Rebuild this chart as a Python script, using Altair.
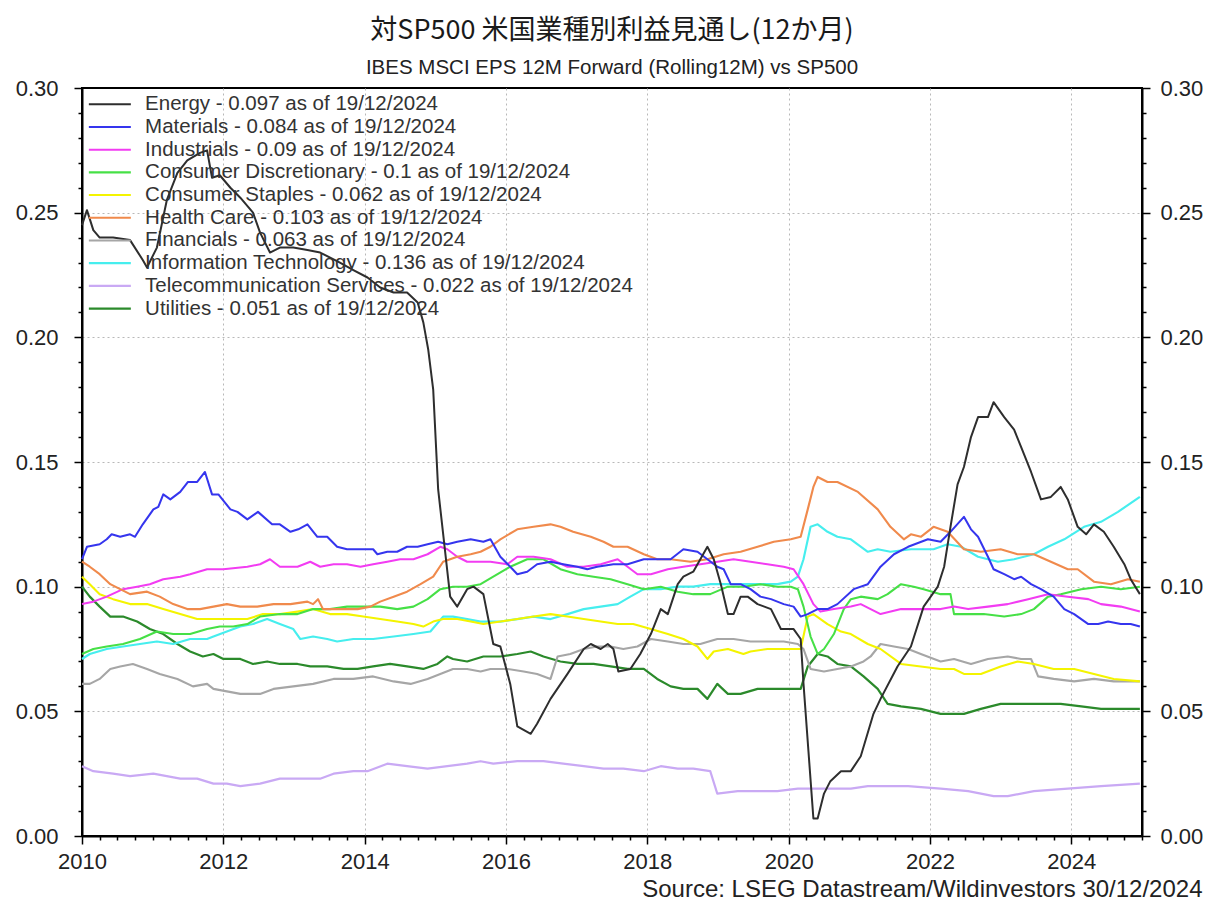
import altair as alt
import pandas as pd

# ---------------- data ----------------
energy_x = [2010.00, 2010.07, 2010.16, 2010.25, 2010.44, 2010.68, 2010.86, 2010.92, 2011.06, 2011.20,
            2011.35, 2011.49, 2011.67, 2011.77, 2011.84, 2011.95, 2012.10, 2012.24, 2012.42, 2012.52,
            2012.66, 2012.80, 2012.99, 2013.19, 2013.37, 2013.65, 2013.84, 2014.04, 2014.22, 2014.41,
            2014.60, 2014.75, 2014.83, 2014.90, 2014.97, 2015.04, 2015.21, 2015.31, 2015.45, 2015.54,
            2015.68, 2015.82, 2015.92, 2016.06, 2016.16, 2016.35, 2016.44, 2016.63, 2016.87, 2017.10,
            2017.20, 2017.34, 2017.44, 2017.52, 2017.59, 2017.76, 2017.90, 2018.05, 2018.19, 2018.29,
            2018.43, 2018.51, 2018.65, 2018.85, 2018.94, 2019.04, 2019.14, 2019.22, 2019.32, 2019.42,
            2019.56, 2019.75, 2019.89, 2020.07, 2020.17, 2020.21, 2020.28, 2020.35, 2020.41, 2020.50,
            2020.59, 2020.74, 2020.88, 2021.02, 2021.20, 2021.30, 2021.54, 2021.73, 2021.91, 2022.11,
            2022.20, 2022.29, 2022.39, 2022.48, 2022.58, 2022.68, 2022.82, 2022.90, 2023.05, 2023.19,
            2023.29, 2023.43, 2023.57, 2023.71, 2023.85, 2023.95, 2024.09, 2024.21, 2024.32, 2024.46,
            2024.60, 2024.75, 2024.84, 2024.97]
energy_y = [0.245, 0.251, 0.243, 0.240, 0.240, 0.239, 0.231, 0.228, 0.236, 0.255,
            0.266, 0.271, 0.274, 0.275, 0.264, 0.265, 0.260, 0.256, 0.250, 0.242,
            0.234, 0.236, 0.236, 0.235, 0.234, 0.230, 0.227, 0.224, 0.220, 0.218,
            0.218, 0.214, 0.206, 0.195, 0.179, 0.139, 0.096, 0.092, 0.099, 0.100,
            0.097, 0.077, 0.076, 0.061, 0.044, 0.041, 0.045, 0.055, 0.065, 0.075,
            0.077, 0.075, 0.077, 0.075, 0.066, 0.067, 0.073, 0.081, 0.091, 0.089,
            0.101, 0.104, 0.106, 0.116, 0.111, 0.101, 0.089, 0.089, 0.096, 0.096,
            0.093, 0.091, 0.083, 0.083, 0.079, 0.061, 0.034, 0.007, 0.007, 0.017,
            0.022, 0.026, 0.026, 0.032, 0.049, 0.055, 0.068, 0.076, 0.092, 0.100,
            0.108, 0.124, 0.141, 0.148, 0.160, 0.168, 0.168, 0.174, 0.168, 0.163,
            0.156, 0.146, 0.135, 0.136, 0.140, 0.135, 0.124, 0.121, 0.125, 0.122,
            0.116, 0.109, 0.103, 0.097]

materials_x = [2010.00, 2010.07, 2010.25, 2010.35, 2010.42, 2010.54, 2010.68, 2010.75, 2010.86, 2011.01,
               2011.08, 2011.15, 2011.25, 2011.39, 2011.50, 2011.63, 2011.74, 2011.84, 2011.93, 2012.10,
               2012.20, 2012.34, 2012.49, 2012.69, 2012.80, 2012.95, 2013.06, 2013.19, 2013.33, 2013.47,
               2013.61, 2013.75, 2013.98, 2014.12, 2014.18, 2014.32, 2014.46, 2014.60, 2014.75, 2014.89,
               2015.04, 2015.17, 2015.31, 2015.50, 2015.68, 2015.78, 2015.92, 2016.06, 2016.16, 2016.30,
               2016.44, 2016.63, 2016.81, 2017.01, 2017.15, 2017.29, 2017.52, 2017.72, 2017.95, 2018.14,
               2018.33, 2018.51, 2018.71, 2018.85, 2018.99, 2019.08, 2019.18, 2019.32, 2019.46, 2019.60,
               2019.75, 2019.93, 2020.07, 2020.17, 2020.27, 2020.41, 2020.55, 2020.69, 2020.92, 2021.12,
               2021.30, 2021.49, 2021.69, 2021.97, 2022.15, 2022.29, 2022.48, 2022.58, 2022.68, 2022.82,
               2022.90, 2023.05, 2023.19, 2023.29, 2023.43, 2023.57, 2023.75, 2023.90, 2024.04, 2024.24,
               2024.38, 2024.52, 2024.70, 2024.84, 2024.97]
materials_y = [0.111, 0.116, 0.117, 0.119, 0.121, 0.120, 0.121, 0.120, 0.125, 0.131,
               0.132, 0.137, 0.135, 0.138, 0.142, 0.142, 0.146, 0.137, 0.137, 0.131,
               0.130, 0.127, 0.130, 0.125, 0.125, 0.122, 0.123, 0.125, 0.120, 0.120,
               0.116, 0.115, 0.115, 0.115, 0.113, 0.114, 0.114, 0.116, 0.116, 0.117,
               0.118, 0.117, 0.118, 0.119, 0.118, 0.119, 0.112, 0.108, 0.105, 0.106,
               0.109, 0.110, 0.109, 0.108, 0.107, 0.108, 0.109, 0.109, 0.111, 0.111,
               0.111, 0.115, 0.114, 0.111, 0.108, 0.107, 0.101, 0.101, 0.099, 0.096,
               0.095, 0.093, 0.092, 0.088, 0.089, 0.091, 0.091, 0.093, 0.099, 0.101,
               0.108, 0.113, 0.116, 0.119, 0.118, 0.122, 0.128, 0.123, 0.120, 0.112,
               0.107, 0.105, 0.103, 0.104, 0.101, 0.099, 0.096, 0.091, 0.089, 0.085,
               0.085, 0.086, 0.085, 0.085, 0.084]

industrials_x = [2010.00, 2010.16, 2010.35, 2010.58, 2010.78, 2010.96, 2011.15, 2011.39, 2011.53, 2011.77,
                 2012.00, 2012.34, 2012.52, 2012.66, 2012.80, 2013.05, 2013.23, 2013.37, 2013.56, 2013.75,
                 2013.94, 2014.12, 2014.32, 2014.50, 2014.69, 2014.89, 2015.07, 2015.17, 2015.31, 2015.45,
                 2015.64, 2015.78, 2016.02, 2016.16, 2016.39, 2016.63, 2016.87, 2017.10, 2017.34, 2017.58,
                 2017.86, 2018.05, 2018.29, 2018.51, 2018.75, 2018.99, 2019.22, 2019.46, 2019.70, 2019.93,
                 2020.07, 2020.21, 2020.35, 2020.45, 2020.64, 2020.88, 2021.02, 2021.30, 2021.59, 2021.87,
                 2022.15, 2022.34, 2022.54, 2022.82, 2023.10, 2023.39, 2023.67, 2023.95, 2024.24, 2024.42,
                 2024.70, 2024.97]
industrials_y = [0.093, 0.094, 0.096, 0.099, 0.100, 0.101, 0.103, 0.104, 0.105, 0.107,
                 0.107, 0.108, 0.109, 0.111, 0.108, 0.108, 0.110, 0.108, 0.109, 0.109,
                 0.108, 0.109, 0.110, 0.111, 0.111, 0.113, 0.116, 0.115, 0.112, 0.110,
                 0.110, 0.110, 0.109, 0.112, 0.112, 0.111, 0.108, 0.108, 0.109, 0.111,
                 0.105, 0.105, 0.107, 0.108, 0.109, 0.110, 0.111, 0.110, 0.109, 0.108,
                 0.107, 0.101, 0.093, 0.090, 0.091, 0.092, 0.093, 0.089, 0.091, 0.091,
                 0.091, 0.092, 0.091, 0.092, 0.093, 0.095, 0.097, 0.096, 0.095, 0.093,
                 0.092, 0.090]

discretionary_x = [2010.00, 2010.16, 2010.35, 2010.58, 2010.82, 2011.06, 2011.29, 2011.53, 2011.77, 2011.95,
                   2012.14, 2012.34, 2012.52, 2012.80, 2013.05, 2013.27, 2013.51, 2013.75, 2013.98, 2014.22,
                   2014.46, 2014.69, 2014.89, 2015.07, 2015.25, 2015.45, 2015.64, 2015.82, 2016.06, 2016.30,
                   2016.53, 2016.77, 2017.01, 2017.24, 2017.48, 2017.72, 2017.95, 2018.19, 2018.43, 2018.65,
                   2018.89, 2019.14, 2019.36, 2019.60, 2019.84, 2020.03, 2020.13, 2020.21, 2020.31, 2020.41,
                   2020.50, 2020.64, 2020.78, 2020.88, 2021.02, 2021.26, 2021.40, 2021.59, 2021.77, 2021.91,
                   2022.15, 2022.29, 2022.34, 2022.54, 2022.76, 2023.05, 2023.29, 2023.47, 2023.67, 2023.85,
                   2024.14, 2024.42, 2024.70, 2024.97]
discretionary_y = [0.073, 0.075, 0.076, 0.077, 0.079, 0.082, 0.081, 0.081, 0.083, 0.084,
                   0.084, 0.085, 0.088, 0.089, 0.089, 0.091, 0.091, 0.092, 0.092, 0.092,
                   0.091, 0.092, 0.095, 0.099, 0.100, 0.100, 0.101, 0.104, 0.108, 0.111,
                   0.111, 0.107, 0.105, 0.104, 0.103, 0.101, 0.099, 0.100, 0.098, 0.097,
                   0.097, 0.100, 0.100, 0.101, 0.100, 0.100, 0.099, 0.092, 0.080, 0.073,
                   0.075, 0.081, 0.091, 0.095, 0.096, 0.095, 0.097, 0.101, 0.100, 0.099,
                   0.097, 0.097, 0.089, 0.089, 0.089, 0.088, 0.089, 0.091, 0.096, 0.097,
                   0.099, 0.100, 0.099, 0.100]

staples_x = [2010.00, 2010.11, 2010.25, 2010.44, 2010.68, 2010.92, 2011.15, 2011.39, 2011.63, 2011.86,
             2012.10, 2012.34, 2012.56, 2012.80, 2013.05, 2013.27, 2013.51, 2013.75, 2013.98, 2014.22,
             2014.46, 2014.69, 2014.83, 2014.97, 2015.11, 2015.31, 2015.50, 2015.68, 2015.92, 2016.16,
             2016.39, 2016.63, 2016.87, 2017.10, 2017.34, 2017.58, 2017.80, 2018.05, 2018.29, 2018.51,
             2018.71, 2018.85, 2018.94, 2019.14, 2019.36, 2019.46, 2019.70, 2019.93, 2020.17, 2020.27,
             2020.35, 2020.55, 2020.74, 2020.88, 2021.12, 2021.30, 2021.59, 2021.87, 2022.15, 2022.34,
             2022.48, 2022.72, 2023.00, 2023.24, 2023.47, 2023.75, 2024.04, 2024.32, 2024.60, 2024.97]
staples_y = [0.104, 0.101, 0.097, 0.095, 0.093, 0.093, 0.091, 0.089, 0.087, 0.087,
             0.087, 0.087, 0.089, 0.089, 0.090, 0.091, 0.089, 0.089, 0.088, 0.087,
             0.086, 0.085, 0.084, 0.086, 0.087, 0.087, 0.086, 0.085, 0.086, 0.087,
             0.088, 0.089, 0.088, 0.087, 0.086, 0.085, 0.085, 0.083, 0.081, 0.079,
             0.076, 0.071, 0.074, 0.075, 0.073, 0.074, 0.075, 0.075, 0.075, 0.088,
             0.089, 0.085, 0.082, 0.081, 0.077, 0.075, 0.069, 0.068, 0.067, 0.067,
             0.065, 0.065, 0.068, 0.070, 0.069, 0.067, 0.067, 0.065, 0.063, 0.062]

health_x = [2010.00, 2010.11, 2010.25, 2010.40, 2010.54, 2010.68, 2010.92, 2011.10, 2011.29, 2011.49,
            2011.67, 2011.86, 2012.05, 2012.24, 2012.48, 2012.71, 2012.95, 2013.19, 2013.27, 2013.34,
            2013.41, 2013.65, 2013.90, 2014.08, 2014.22, 2014.41, 2014.60, 2014.79, 2014.97, 2015.11,
            2015.31, 2015.50, 2015.64, 2015.78, 2015.92, 2016.16, 2016.39, 2016.63, 2016.77, 2016.95,
            2017.20, 2017.38, 2017.52, 2017.72, 2017.95, 2018.14, 2018.33, 2018.61, 2018.85, 2019.08,
            2019.32, 2019.56, 2019.79, 2020.03, 2020.17, 2020.27, 2020.35, 2020.41, 2020.55, 2020.69,
            2020.98, 2021.26, 2021.44, 2021.63, 2021.73, 2021.87, 2022.05, 2022.25, 2022.48, 2022.72,
            2023.00, 2023.24, 2023.47, 2023.71, 2023.95, 2024.09, 2024.32, 2024.56, 2024.80, 2024.97]
health_y = [0.110, 0.108, 0.105, 0.101, 0.099, 0.097, 0.098, 0.096, 0.093, 0.091,
            0.091, 0.092, 0.093, 0.092, 0.092, 0.093, 0.093, 0.094, 0.093, 0.095,
            0.091, 0.091, 0.091, 0.092, 0.094, 0.096, 0.098, 0.101, 0.104, 0.110,
            0.112, 0.113, 0.114, 0.116, 0.119, 0.123, 0.124, 0.125, 0.124, 0.122,
            0.120, 0.118, 0.116, 0.116, 0.113, 0.111, 0.111, 0.110, 0.111, 0.113,
            0.114, 0.116, 0.118, 0.119, 0.120, 0.131, 0.140, 0.144, 0.142, 0.142,
            0.138, 0.131, 0.124, 0.119, 0.121, 0.120, 0.124, 0.122, 0.115, 0.114,
            0.115, 0.113, 0.113, 0.110, 0.107, 0.107, 0.102, 0.101, 0.103, 0.102]

financials_x = [2010.00, 2010.11, 2010.25, 2010.40, 2010.54, 2010.72, 2010.92, 2011.10, 2011.35, 2011.57,
                2011.77, 2011.86, 2012.05, 2012.24, 2012.52, 2012.71, 2012.99, 2013.27, 2013.56, 2013.84,
                2014.12, 2014.41, 2014.65, 2014.89, 2015.07, 2015.25, 2015.45, 2015.64, 2015.78, 2016.02,
                2016.25, 2016.44, 2016.63, 2016.73, 2016.91, 2017.10, 2017.29, 2017.48, 2017.66, 2017.86,
                2018.05, 2018.29, 2018.51, 2018.75, 2018.99, 2019.22, 2019.46, 2019.70, 2019.93, 2020.13,
                2020.21, 2020.31, 2020.50, 2020.69, 2020.88, 2021.06, 2021.16, 2021.30, 2021.49, 2021.69,
                2021.87, 2022.15, 2022.34, 2022.58, 2022.82, 2023.10, 2023.29, 2023.43, 2023.53, 2023.75,
                2024.04, 2024.32, 2024.60, 2024.97]
financials_y = [0.061, 0.061, 0.063, 0.067, 0.068, 0.069, 0.067, 0.065, 0.063, 0.060,
                0.061, 0.059, 0.058, 0.057, 0.057, 0.059, 0.060, 0.061, 0.063, 0.063,
                0.064, 0.062, 0.061, 0.063, 0.065, 0.067, 0.067, 0.066, 0.067, 0.067,
                0.066, 0.065, 0.063, 0.072, 0.073, 0.075, 0.076, 0.076, 0.075, 0.076,
                0.079, 0.078, 0.077, 0.077, 0.079, 0.079, 0.078, 0.078, 0.078, 0.077,
                0.075, 0.067, 0.066, 0.067, 0.068, 0.070, 0.072, 0.077, 0.076, 0.075,
                0.073, 0.070, 0.071, 0.069, 0.071, 0.072, 0.071, 0.071, 0.064, 0.063,
                0.062, 0.063, 0.062, 0.062]

tech_x = [2010.00, 2010.11, 2010.35, 2010.58, 2010.82, 2011.06, 2011.29, 2011.53, 2011.77, 2011.86,
          2012.05, 2012.24, 2012.42, 2012.62, 2012.80, 2012.99, 2013.09, 2013.27, 2013.47, 2013.61,
          2013.84, 2014.12, 2014.41, 2014.69, 2014.93, 2015.11, 2015.25, 2015.45, 2015.64, 2015.92,
          2016.16, 2016.39, 2016.63, 2016.87, 2017.10, 2017.34, 2017.58, 2017.76, 2017.95, 2018.19,
          2018.43, 2018.65, 2018.89, 2019.14, 2019.36, 2019.60, 2019.84, 2020.03, 2020.13, 2020.21,
          2020.31, 2020.41, 2020.55, 2020.69, 2020.88, 2021.12, 2021.26, 2021.44, 2021.73, 2022.05,
          2022.25, 2022.44, 2022.68, 2022.96, 2023.19, 2023.47, 2023.67, 2023.90, 2024.18, 2024.42,
          2024.66, 2024.97]
tech_y = [0.071, 0.073, 0.075, 0.076, 0.077, 0.078, 0.077, 0.079, 0.079, 0.080,
          0.082, 0.084, 0.085, 0.087, 0.085, 0.083, 0.079, 0.080, 0.079, 0.078,
          0.079, 0.079, 0.080, 0.081, 0.082, 0.088, 0.088, 0.087, 0.086, 0.086,
          0.087, 0.088, 0.087, 0.089, 0.091, 0.092, 0.093, 0.096, 0.099, 0.099,
          0.100, 0.100, 0.101, 0.101, 0.101, 0.101, 0.101, 0.102, 0.104, 0.111,
          0.124, 0.125, 0.122, 0.120, 0.119, 0.114, 0.115, 0.114, 0.115, 0.115,
          0.117, 0.116, 0.112, 0.110, 0.111, 0.113, 0.116, 0.119, 0.124, 0.126,
          0.130, 0.136]

telecom_x = [2010.00, 2010.16, 2010.44, 2010.68, 2011.01, 2011.20, 2011.39, 2011.63, 2011.86, 2012.05,
             2012.24, 2012.52, 2012.80, 2013.09, 2013.37, 2013.56, 2013.84, 2014.04, 2014.32, 2014.60,
             2014.89, 2015.17, 2015.45, 2015.64, 2015.82, 2016.16, 2016.53, 2016.81, 2017.10, 2017.38,
             2017.66, 2017.95, 2018.19, 2018.43, 2018.65, 2018.89, 2018.99, 2019.28, 2019.56, 2019.84,
             2020.13, 2020.41, 2020.69, 2020.88, 2021.12, 2021.69, 2022.15, 2022.54, 2022.90, 2023.10,
             2023.47, 2023.95, 2024.42, 2024.97]
telecom_y = [0.028, 0.026, 0.025, 0.024, 0.025, 0.024, 0.023, 0.023, 0.021, 0.021,
             0.020, 0.021, 0.023, 0.023, 0.023, 0.025, 0.026, 0.026, 0.029, 0.028,
             0.027, 0.028, 0.029, 0.030, 0.029, 0.030, 0.030, 0.029, 0.028, 0.027,
             0.027, 0.026, 0.028, 0.027, 0.027, 0.026, 0.017, 0.018, 0.018, 0.018,
             0.019, 0.019, 0.019, 0.019, 0.020, 0.020, 0.019, 0.018, 0.016, 0.016,
             0.018, 0.019, 0.020, 0.021]

utilities_x = [2010.00, 2010.11, 2010.25, 2010.40, 2010.58, 2010.78, 2010.96, 2011.15, 2011.35, 2011.53,
               2011.71, 2011.86, 2012.00, 2012.24, 2012.42, 2012.62, 2012.80, 2013.05, 2013.23, 2013.47,
               2013.70, 2013.90, 2014.12, 2014.36, 2014.60, 2014.83, 2015.03, 2015.17, 2015.25, 2015.45,
               2015.68, 2015.92, 2016.16, 2016.35, 2016.53, 2016.77, 2017.01, 2017.24, 2017.48, 2017.72,
               2017.95, 2018.14, 2018.33, 2018.51, 2018.71, 2018.85, 2018.99, 2019.14, 2019.32, 2019.56,
               2019.79, 2020.03, 2020.17, 2020.27, 2020.41, 2020.55, 2020.69, 2020.88, 2021.06, 2021.26,
               2021.40, 2021.59, 2021.87, 2022.15, 2022.48, 2022.72, 2023.00, 2023.29, 2023.57, 2023.85,
               2024.14, 2024.42, 2024.97]
utilities_y = [0.100, 0.096, 0.092, 0.088, 0.088, 0.086, 0.083, 0.081, 0.077, 0.074,
               0.072, 0.073, 0.071, 0.071, 0.069, 0.070, 0.069, 0.069, 0.068, 0.068,
               0.067, 0.067, 0.068, 0.069, 0.068, 0.067, 0.069, 0.072, 0.071, 0.070,
               0.072, 0.072, 0.073, 0.074, 0.072, 0.070, 0.069, 0.069, 0.068, 0.067,
               0.067, 0.063, 0.060, 0.059, 0.059, 0.055, 0.061, 0.057, 0.057, 0.059,
               0.059, 0.059, 0.059, 0.068, 0.073, 0.072, 0.069, 0.068, 0.064, 0.059,
               0.053, 0.052, 0.051, 0.049, 0.049, 0.051, 0.053, 0.053, 0.053, 0.053,
               0.052, 0.051, 0.051]

labels = [
    "Energy - 0.097 as of 19/12/2024",
    "Materials - 0.084 as of 19/12/2024",
    "Industrials - 0.09 as of 19/12/2024",
    "Consumer Discretionary - 0.1 as of 19/12/2024",
    "Consumer Staples - 0.062 as of 19/12/2024",
    "Health Care - 0.103 as of 19/12/2024",
    "Financials - 0.063 as of 19/12/2024",
    "Information Technology - 0.136 as of 19/12/2024",
    "Telecommunication Services - 0.022 as of 19/12/2024",
    "Utilities - 0.051 as of 19/12/2024",
]
colors = ["#2e2e2e", "#3535ee", "#f23cf2", "#46e046", "#f4f400",
          "#f08a4c", "#a6a6a6", "#46eeee", "#c9a9f4", "#2b8a2b"]
widths = [2.0, 2.2, 2.2, 2.2, 4.0, 2.2, 2.2, 2.2, 2.2, 2.2]

series_data = {
    labels[0]: (energy_x, energy_y),
    labels[1]: (materials_x, materials_y),
    labels[2]: (industrials_x, industrials_y),
    labels[3]: (discretionary_x, discretionary_y),
    labels[4]: (staples_x, staples_y),
    labels[5]: (health_x, health_y),
    labels[6]: (financials_x, financials_y),
    labels[7]: (tech_x, tech_y),
    labels[8]: (telecom_x, telecom_y),
    labels[9]: (utilities_x, utilities_y),
}
# drawing order (last on top)
draw_order = [labels[8], labels[9], labels[6], labels[7], labels[4],
              labels[3], labels[2], labels[5], labels[1], labels[0]]

rows = []
for name in draw_order:
    xs, ys = series_data[name]
    for xv, yv in zip(xs, ys):
        rows.append({"series": name, "year": xv, "value": yv})
df = pd.DataFrame(rows)

title_text = "対SP500 米国業種別利益見通し(12か月)"
subtitle_text = "IBES MSCI EPS 12M Forward (Rolling12M) vs SP500"
source_text = "Source: LSEG Datastream/Wildinvestors 30/12/2024"

x_ticks = [2010 + q / 4 for q in range(61)]
y_ticks = [round(i * 0.01, 2) for i in range(31)]

# ---------------- chart ----------------
x_major = "datum.value % 2 == 0"
y_major = "abs(round(datum.value * 100) % 5) == 0"

x_scale = alt.Scale(domain=[2010, 2025], nice=False, zero=False)
y_scale = alt.Scale(domain=[0, 0.3], nice=False, zero=True)

x_axis = alt.Axis(
    values=x_ticks,
    labelExpr=f"{x_major} ? format(datum.value, 'd') : ''",
    labelFlush=False, labelOverlap=False,
    labelFontSize=22, labelColor="#222222", labelPadding=7,
    tickSize={"condition": {"test": x_major, "value": 8}, "value": 4},
    tickColor="black", tickWidth=1.5,
    domainColor="black", domainWidth=2,
    grid=True, gridColor="#b8b8b8", gridDash=[2, 3], gridWidth=1,
    gridOpacity={"condition": {"test": f"{x_major} && datum.value > 2010 && datum.value < 2025", "value": 1}, "value": 0},
    title=source_text, titleFontSize=24, titleFontWeight="normal", titleColor="#222222",
    titleAlign="right", titleAnchor="end", titleBaseline="alphabetic",
    titleX=1120, titleY=60,
)

y_left = alt.Axis(
    orient="left", values=y_ticks,
    labelExpr=f"{y_major} ? format(datum.value, '.2f') : ''",
    labelOverlap=False, labelFontSize=22, labelColor="#222222", labelPadding=16,
    tickSize={"condition": {"test": y_major, "value": 8}, "value": 4},
    tickColor="black", tickWidth=1.5,
    domainColor="black", domainWidth=2,
    grid=True, gridColor="#b8b8b8", gridDash=[2, 3], gridWidth=1,
    gridOpacity={"condition": {"test": f"{y_major} && datum.value > 0.001 && datum.value < 0.299", "value": 1}, "value": 0},
    title=None,
)
y_right = alt.Axis(
    orient="right", values=y_ticks,
    labelExpr=f"{y_major} ? format(datum.value, '.2f') : ''",
    labelOverlap=False, labelFontSize=22, labelColor="#222222", labelPadding=10,
    tickSize={"condition": {"test": y_major, "value": 8}, "value": 4},
    tickColor="black", tickWidth=1.5,
    domainColor="black", domainWidth=2,
    grid=False, title=None,
)

legend = alt.Legend(
    orient="none", legendX=17.6, legendY=6, title=None,
    symbolType="M-2.5,0H2.5", symbolSize=282, symbolStrokeWidth=2.5,
    labelFontSize=20.5, labelColor="#333333", labelOffset=25, labelLimit=800,
    rowPadding=1.7, padding=0,
)

base = alt.Chart(df)

lines = base.mark_line(strokeJoin="round").encode(
    x=alt.X("year:Q", scale=x_scale, axis=x_axis),
    y=alt.Y("value:Q", scale=y_scale, axis=y_left),
    color=alt.Color("series:N", scale=alt.Scale(domain=labels, range=colors), legend=legend),
    strokeWidth=alt.StrokeWidth("series:N", scale=alt.Scale(domain=labels, range=widths), legend=None),
)

right = base.mark_line(opacity=0).encode(
    x=alt.X("year:Q", scale=x_scale, axis=x_axis),
    y=alt.Y("value:Q", scale=y_scale, axis=y_right),
    detail="series:N",
)

chart = alt.layer(lines, right).resolve_scale(y="independent").properties(
    width=1060, height=748,
    padding={"left": 74, "top": 80, "right": 62, "bottom": 66},
    autosize=alt.AutoSizeParams(type="none"),
    title=alt.TitleParams(
        text=title_text, subtitle=subtitle_text,
        font="Noto Sans CJK JP", fontSize=27, fontWeight="normal", color="#1a1a1a",
        subtitleFont="Liberation Sans", subtitleFontSize=20.5, subtitleColor="#222222",
        subtitlePadding=13, anchor="middle", offset=-2,
    ),
).configure(font="Liberation Sans", background="white").configure_view(
    stroke="black", strokeWidth=2
)

chart.save("out.html", embed_options={"renderer": "svg", "actions": False})
